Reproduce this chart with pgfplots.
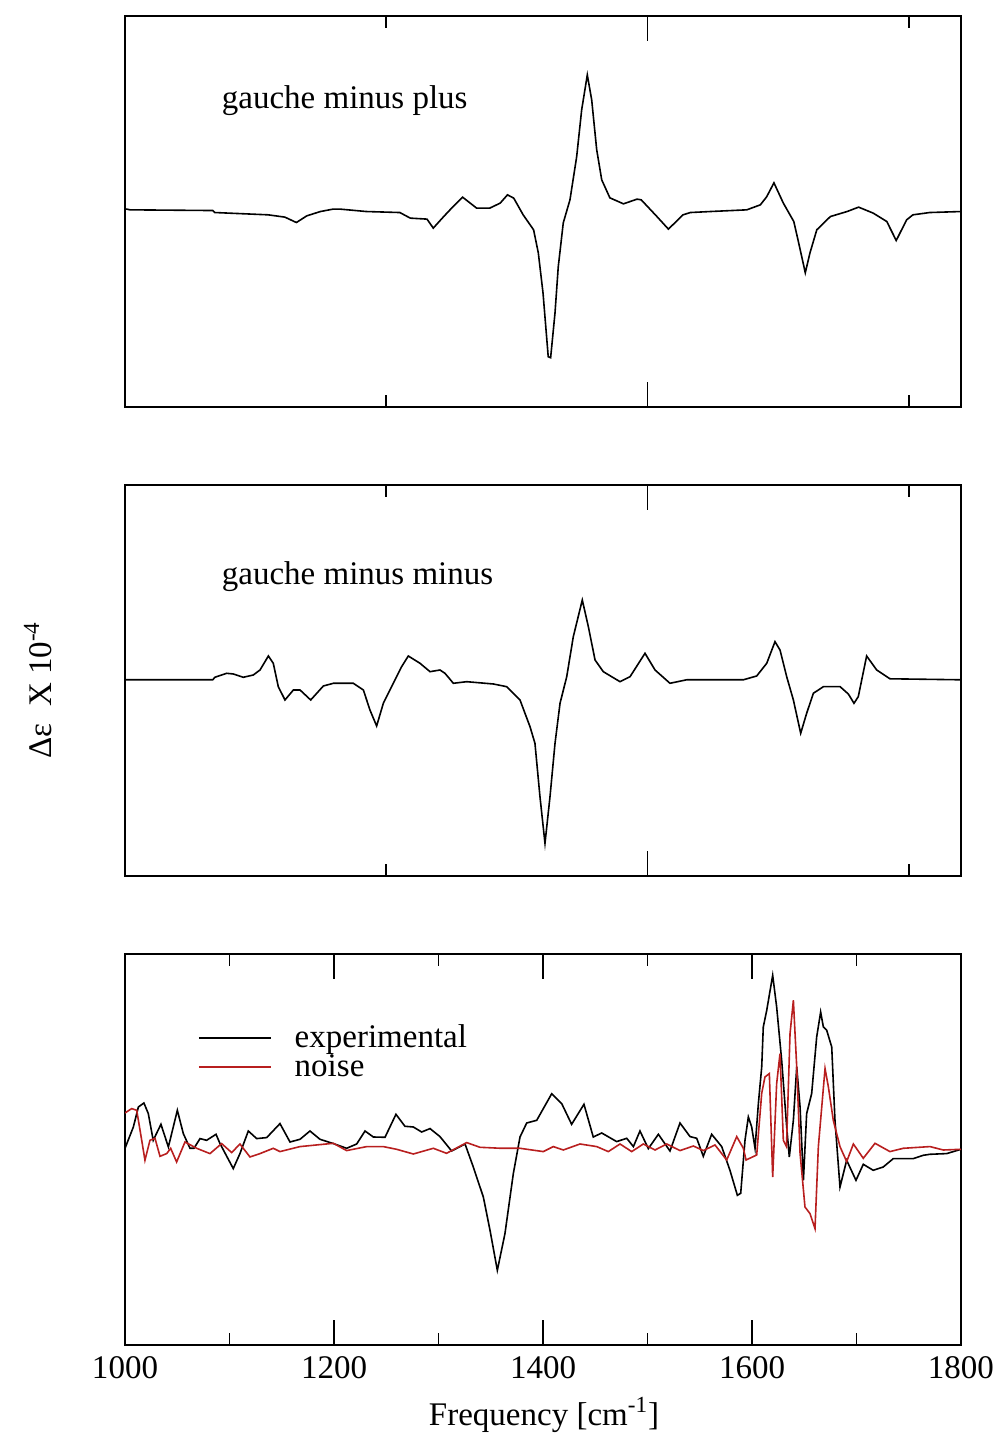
\documentclass[border=0pt]{standalone}
\usepackage{fontspec}
\setmainfont{Liberation Serif}
\usepackage{pgfplots}
\pgfplotsset{compat=1.18}
\usepackage{pgfplotstable}

\pgfplotstableread{
x y
1000 1
1005 0
1084 -0.7
1086 -2.7
1137 -5
1153 -7.3
1164 -12.7
1174 -6
1187 -1.7
1199 0.7
1206 0.7
1231 -1.7
1263 -2.7
1273 -8.3
1289 -9.3
1295 -18.3
1305 -6.7
1314 3.3
1323 12.7
1336.5 1.7
1349 1.7
1359 6.7
1366 15
1372 11.7
1381 -5
1391 -20
1395.5 -43
1400 -83
1405 -147
1407.3 -148
1411.5 -103
1414.6 -57
1419.4 -13
1425.8 10
1432.2 53
1437 100
1442.4 135
1446.6 110
1451.4 60
1456.2 30
1464 12
1477 6
1490 10.7
1494 10
1509 -6.7
1520 -19.3
1534 -5
1541 -2.7
1560 -1.7
1595 0
1608 5
1614 13
1621 27
1630 6.7
1640 -11.7
1644 -30
1651 -63
1655.5 -43
1662 -20
1675 -6.7
1691 -1.7
1702 2.7
1716 -3.3
1729 -11.7
1738 -30.7
1748 -10
1754 -5
1770 -2.7
1800 -1.7
}\gmp

\pgfplotstableread{
x y
1000 0
1084 0
1086 2.5
1097.3 6.5
1103.7 5.8
1113.2 2.5
1122.8 4.8
1129.2 9.8
1137.2 23.8
1141.9 16.5
1146.7 -6.9
1153.1 -20.2
1161.1 -10.2
1167.5 -10.2
1177.7 -20.2
1189.8 -6.2
1199.4 -3.5
1218.5 -3.5
1228.1 -10.2
1234.4 -30.2
1240.8 -46.2
1247.2 -23.5
1256.7 -3.5
1264.7 13.1
1271.1 23.8
1282.3 16.5
1291.9 8.1
1301.4 9.8
1306.2 6.5
1314.2 -3.5
1327 -1.9
1352.5 -4.2
1365.3 -6.9
1378 -20.2
1387.6 -47
1392.3 -63.5
1397.1 -116.9
1401.9 -163.5
1406.7 -116.9
1411.5 -63.5
1416.3 -23.5
1422.7 3.1
1429 43.1
1437.6 79.8
1443.4 53.1
1449.8 19.8
1457.7 8.1
1473.7 -1.9
1483.3 3.1
1497.6 26.5
1507.2 9.8
1521.5 -3.5
1537.5 0
1591.7 0
1604.5 3.8
1614.1 16.5
1622 38.1
1626.8 29.8
1633.2 3.1
1639.6 -20.2
1646.6 -53.5
1652.3 -33.5
1658.7 -13.5
1668.3 -6.9
1684.3 -6.9
1692.2 -14.2
1697.6 -23.5
1701.7 -16.9
1709.7 23.8
1719.3 9.8
1732 1
1800 0
}\gmm

\pgfplotstableread{
x y
1000 0
1008 21.3
1012.8 41.3
1018.1 45.3
1022.3 34.7
1027 8
1034.4 24
1041.5 1.3
1050.1 38
1055.8 14.7
1062.2 0
1066 0
1071.8 9.7
1078.1 8
1087.1 14
1090.9 4.7
1103.6 -20.3
1110 -5.3
1118 17.3
1126 9.7
1135.6 10.7
1148.3 24.7
1157.9 6.3
1167.5 9
1177 17.3
1186.6 9
1199.4 4.7
1212.1 0
1221.7 4.3
1229.7 17.3
1237.6 11.3
1248.8 11
1259.3 34
1267.9 22
1275.9 21.3
1283.9 16.3
1291.9 19.7
1301.4 11.7
1312.6 -2.7
1325.4 4.3
1333.3 -18.7
1342.9 -48.7
1349.3 -82
1356.3 -122
1363.6 -85.3
1371.6 -25.3
1378 11.3
1384.4 25.3
1394 28
1408.3 54.5
1417.9 44.7
1427.4 24
1439.2 44
1448.1 11.3
1456.2 15.3
1470.5 6.7
1480.1 10
1486.5 1.7
1492.8 17.3
1500.8 -0.3
1510.4 14
1521.5 -2.7
1531.1 25.3
1540.7 11.7
1547.1 10
1553.4 -8
1561.4 14
1571 1.7
1578.9 -22
1586 -47
1589.2 -45
1593.3 8
1596.5 31.3
1599.7 21.3
1602.9 0
1606.1 44.7
1609.3 81.3
1610.8 121.3
1614.1 138
1619.8 173
1623.6 141.3
1628.4 88
1633.2 21.3
1635.7 -8.7
1639.6 28
1642.8 81.3
1646 41.3
1649.2 -32
1652.3 34.7
1657.1 54.7
1661.9 111.3
1665.7 136.3
1668.3 121.3
1671.5 118
1676.3 101.3
1679.4 28
1684.2 -38.7
1690.6 -12
1699.5 -32
1706.5 -16
1716 -22
1725.6 -18.7
1735.2 -10.3
1754.4 -10.3
1763.9 -7
1770.3 -6
1786.3 -5.3
1800 -1
}\exper

\pgfplotstableread{
x y
1000 35.3
1006.4 39.7
1011.2 38
1016 8
1019.1 -12
1023.9 8
1028.7 10
1033.5 -8
1039.9 -5.3
1043.7 0
1049.4 -13.7
1057.4 6.3
1068.6 0
1081.3 -5.3
1092.5 4.7
1102.1 -4.3
1110 4.3
1119.6 -8.7
1129.2 -5.3
1141.9 0
1148.3 -3.3
1167.5 1.7
1199.4 5
1212.1 -2.3
1231.3 1.7
1247.2 1.7
1259.9 -1
1275.9 -5.7
1295 0
1307.7 -5
1327 5.7
1339.7 1
1360 0
1378 0
1400.3 -3.3
1409.9 1.7
1419.4 -1.7
1435.4 4.3
1451.4 1.7
1462.5 -3.3
1473.7 4.3
1484.9 -3.3
1496 4.3
1507.2 -1.7
1518.4 4.3
1531.1 -2.3
1543.9 2.3
1553.4 -2.3
1564.6 3.3
1575.8 -11.7
1585.4 11.7
1591.7 0
1594.3 -11.7
1604.5 -6.7
1609.3 55
1612.4 71.3
1616.6 74.7
1619.8 -28.7
1623.6 64.7
1626.8 94.7
1630 8
1633 1.7
1636.4 114.7
1639.6 148
1642.8 81.3
1646 -5
1650.7 -58.7
1655.5 -65.3
1660.3 -80.3
1663.5 1.7
1669.9 79.7
1673.1 61.3
1677.8 28
1684.2 1.7
1690.6 -13.3
1697 4.3
1706.5 -10
1717.7 5
1732 -3.3
1744.8 0
1770.3 1.7
1783.1 -1.7
1800 -1
}\noise

\definecolor{noisered}{rgb}{0.72,0.12,0.12}
\newcommand{\bigfont}{\fontsize{16.5}{18}\selectfont}

\begin{document}
\begin{tikzpicture}
\path[use as bounding box] (0pt,0pt) rectangle (499.5pt,719.5pt);
\pgfplotsset{
  panel/.style={
    scale only axis, width=418pt, height=195.5pt,
    xmin=1000, xmax=1800,
    axis line style={line width=1pt},
    every tick/.style={black, line width=0.8pt},
    major tick length=12.5pt, minor tick length=6pt,
    ytick=\empty,
    anchor=south west,
    /pgf/number format/1000 sep={},
    /pgf/number format/assume math mode=true,
    ticklabel style={font=\bigfont},
  }
}
\begin{axis}[panel, at={(62.5pt,516pt)},
  ymin=-197.3, ymax=194, minor ytick={-123,121},
  xtick={1000,1500}, minor xtick={1250,1750}, xticklabels={}]
\addplot[black, line width=0.8pt] table {\gmp};
\node[anchor=west, font=\bigfont] at (axis cs:1086,109) {gauche minus plus};
\end{axis}

\begin{axis}[panel, at={(62.5pt,281.5pt)},
  ymin=-196.2, ymax=194.8, minor ytick={-122.2,122.1},
  xtick={1000,1500}, minor xtick={1250,1750}, xticklabels={}]
\addplot[black, line width=0.8pt] table {\gmm};
\node[anchor=west, font=\bigfont] at (axis cs:1086,103) {gauche minus minus};
\end{axis}

\begin{axis}[panel, at={(62.5pt,47pt)},
  ymin=-196.7, ymax=194.3,
  xtick={1000,1200,1400,1600,1800}, minor xtick={1100,1300,1500,1700},
  xticklabel style={yshift=-2pt},
  legend style={draw=none, fill=none, at={(0.087,0.83)}, anchor=north west,
    font=\bigfont, row sep=-2.2pt, inner sep=0pt, column sep=9.5pt},
  legend cell align=left,
  legend image code/.code={\draw[#1] (0pt,0pt) -- (36pt,0pt);}]
\addplot[black, line width=0.8pt] table {\exper};
\addlegendentry{experimental}
\addplot[noisered, line width=0.8pt] table {\noise};
\addlegendentry{noise}
\end{axis}

\node[rotate=90, font=\bigfont] at (19pt,374.5pt) {Δε\ \ X 10\textsuperscript{-4}};
\node[font=\bigfont] at (272pt,12pt) {Frequency [cm\textsuperscript{-1}]};
\end{tikzpicture}
\end{document}
